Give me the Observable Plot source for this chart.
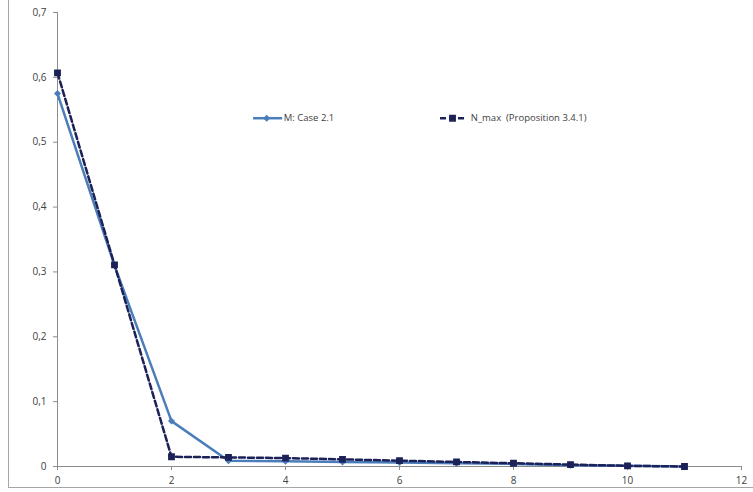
<!DOCTYPE html>
<html>
<head>
<meta charset="utf-8">
<script src="https://cdn.jsdelivr.net/npm/d3@7"></script>
<script src="https://cdn.jsdelivr.net/npm/@observablehq/plot@0.6"></script>
<style>
  html, body { margin: 0; padding: 0; background: #fff; }
  #wrap { position: relative; width: 753px; height: 492px; }
  #border { position: absolute; left: 8px; top: -2px; width: 746px; height: 490px;
            border-left: 1px solid #a6a6a6; border-bottom: 1px solid #a6a6a6; box-sizing: border-box; }
  #wrap svg { position: absolute; left: 0; top: 0; }
</style>
</head>
<body>
<div id="wrap"><div id="border"></div></div>
<script>
const xs = [0, 1, 2, 3, 4, 5, 6, 7, 8, 9, 10, 11];
const mCase = [0.575, 0.31, 0.07, 0.009, 0.008, 0.007, 0.006, 0.005, 0.004, 0.002, 0.001, 0.0];
const nMax = [0.607, 0.311, 0.015, 0.014, 0.013, 0.011, 0.009, 0.007, 0.005, 0.003, 0.001, 0.0];
const xTicks = [0, 2, 4, 6, 8, 10, 12];
const yTicks = [0, 0.1, 0.2, 0.3, 0.4, 0.5, 0.6, 0.7];
const seriesNames = ["M: Case 2.1", "N_max  (Proposition 3.4.1)"];

const colM = "#4a7ebb";
const colN = "#1c2158";

const dataM = xs.map((x, i) => ({x, y: mCase[i]}));
const dataN = xs.map((x, i) => ({x, y: nMax[i]}));
const fmt = d => String(Math.round(d * 10) / 10).replace(".", ",");

const chart = Plot.plot({
  width: 753,
  height: 492,
  marginLeft: 57,
  marginRight: 12,
  marginTop: 12,
  marginBottom: 26,
  style: {fontFamily: "'Open Sans', 'Liberation Sans', sans-serif", fontSize: "10px", color: "#404040", background: "transparent"},
  x: {domain: [0, 12]},
  y: {domain: [0, 0.7]},
  marks: [
    Plot.ruleX([0], {y1: 0, y2: 0.7, stroke: "#8c8c8c"}),
    Plot.ruleY([0], {x1: 0, x2: 12, stroke: "#8c8c8c"}),
    Plot.axisX(xTicks, {tickSize: 4, tickPadding: 6, stroke: "#8c8c8c", tickFormat: d => d, label: null, fill: "#404040"}),
    Plot.axisY(yTicks, {tickSize: 4, tickPadding: 7, stroke: "#8c8c8c", tickFormat: fmt, label: null, fill: "#404040"}),
    Plot.line(dataM, {x: "x", y: "y", stroke: colM, strokeWidth: 2.5}),
    Plot.dot(dataM, {x: "x", y: "y", symbol: "diamond2", r: 2.2, fill: colM, stroke: colM}),
    Plot.line(dataN, {x: "x", y: "y", stroke: colN, strokeWidth: 2.5, strokeDasharray: "6,3"}),
    Plot.dot(dataN, {x: "x", y: "y", symbol: "square", r: 3, fill: colN, stroke: colN}),
    // legend
    Plot.ruleY([0], {x1: 3.44, x2: 3.95, y: 0.537, stroke: colM, strokeWidth: 2.5}),
    Plot.dot([0], {x: 3.67, y: 0.537, symbol: "diamond2", r: 2.2, fill: colM, stroke: colM}),
    Plot.text([seriesNames[0]], {x: 3.97, y: 0.537, text: d => d, textAnchor: "start", fill: "#404040", fontSize: 9.5}),
    Plot.ruleY([0], {x1: 6.72, x2: 7.17, y: 0.537, stroke: colN, strokeWidth: 2.5, strokeDasharray: "6,3"}),
    Plot.dot([0], {x: 6.93, y: 0.537, symbol: "square", r: 3, fill: colN, stroke: colN}),
    Plot.text([seriesNames[1]], {x: 7.25, y: 0.537, text: d => d, textAnchor: "start", fill: "#404040", fontSize: 9.5})
  ]
});
document.getElementById("wrap").appendChild(chart);
</script>
</body>
</html>
